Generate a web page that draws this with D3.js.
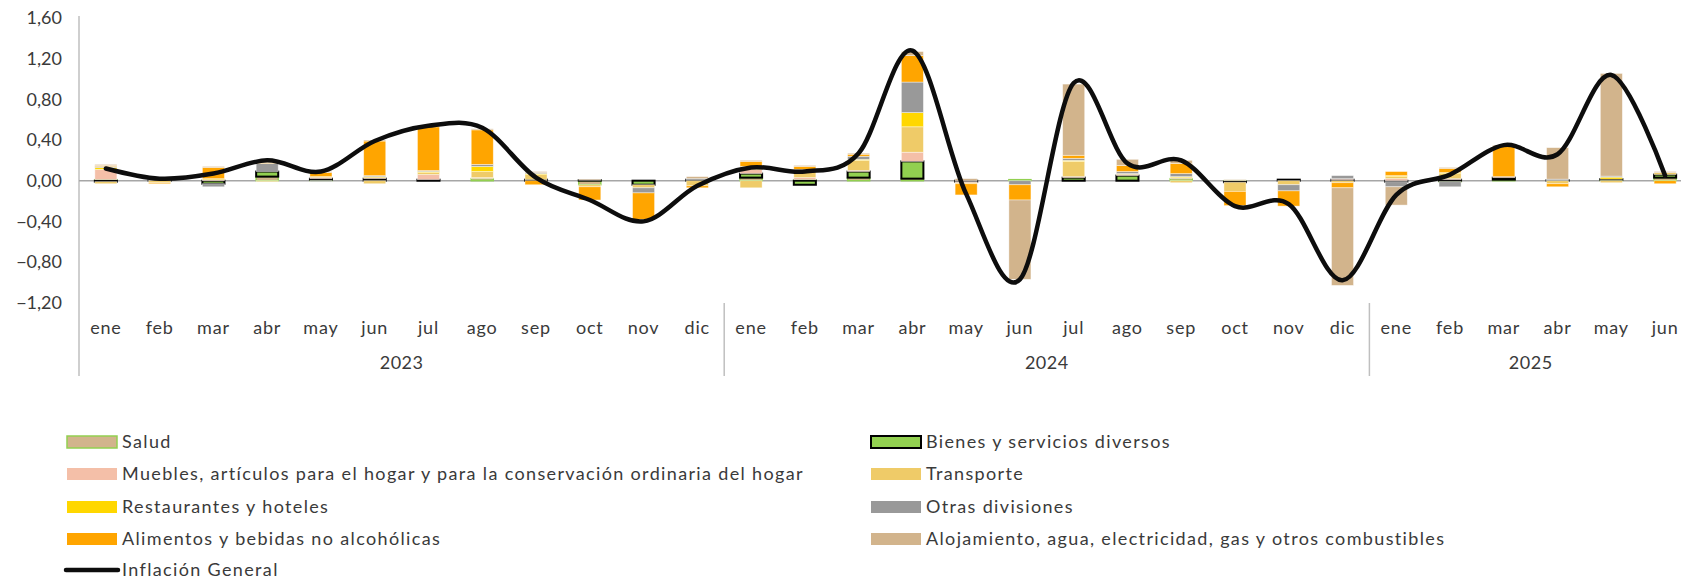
<!DOCTYPE html>
<html>
<head>
<meta charset="utf-8">
<script src="https://cdn.jsdelivr.net/npm/d3@7"></script>
<style>
  html, body { margin: 0; padding: 0; background: #fff; }
  svg text { font-family: Lato, "Open Sans", sans-serif; fill: #3a3a3a; }
</style>
</head>
<body>
<div id="chart"></div>
<script>
// months / years of the category axis
const months = ['ene','feb','mar','abr','may','jun','jul','ago','sep','oct','nov','dic',
                'ene','feb','mar','abr','may','jun','jul','ago','sep','oct','nov','dic',
                'ene','feb','mar','abr','may','jun'];
const years = [
  { label: '2023', start: 0,  count: 12 },
  { label: '2024', start: 12, count: 12 },
  { label: '2025', start: 24, count: 6 }
];
const yTicks = [-1.2, -0.8, -0.4, 0, 0.4, 0.8, 1.2, 1.6];

// contributions by division (percentage points)
const salud = [0.01, 0.00, 0.00, 0.04, 0.01, 0.00, 0.00, 0.02, 0.00, -0.04, 0.00, 0.00,
               0.03, 0.01, 0.03, 0.02, 0.00, 0.01, 0.00, 0.00, 0.02, -0.01, 0.00, 0.00,
               0.00, -0.01, 0.01, 0.00, 0.01, 0.03];
const bienes = [-0.01, 0.005, -0.03, 0.05, 0.01, 0.02, 0.01, 0.00, 0.01, 0.005, -0.04, 0.01,
                0.04, -0.04, 0.06, 0.17, -0.01, 0.00, 0.03, 0.05, 0.00, -0.005, 0.01, 0.01,
                -0.01, 0.01, 0.02, 0.005, 0.005, 0.03];
const muebles = [0.10, 0.01, 0.01, 0.00, 0.01, 0.01, 0.05, 0.01, 0.00, 0.00, 0.00, 0.00,
                 0.04, 0.02, 0.01, 0.09, -0.01, 0.00, 0.01, 0.01, 0.01, 0.00, 0.00, 0.01,
                 0.02, 0.01, 0.01, 0.00, 0.00, 0.00];
const transporte = [-0.02, -0.02, 0.00, -0.01, 0.01, -0.03, 0.02, 0.06, 0.05, -0.02, -0.03, -0.05,
                    -0.07, 0.06, 0.10, 0.25, -0.01, 0.00, 0.15, 0.01, -0.02, -0.09, -0.04, -0.02,
                    0.02, 0.05, 0.00, -0.03, -0.02, 0.02];
const restaurantes = [0.02, 0.01, 0.01, 0.00, 0.00, 0.01, 0.01, 0.05, 0.01, 0.00, 0.00, 0.00,
                      0.01, 0.01, 0.01, 0.14, 0.00, 0.00, 0.01, 0.00, 0.01, 0.00, 0.00, 0.00,
                      0.01, 0.01, 0.00, 0.00, 0.02, 0.00];
const otras = [0.01, 0.00, -0.03, 0.08, -0.01, 0.01, 0.01, 0.02, 0.01, 0.00, -0.05, 0.01,
               0.02, 0.01, 0.03, 0.30, 0.00, -0.04, 0.02, 0.02, 0.03, 0.00, -0.06, 0.03,
               -0.05, -0.05, 0.00, 0.01, 0.01, 0.00];
const alimentos = [0.01, -0.01, 0.11, 0.01, 0.04, 0.34, 0.43, 0.34, -0.04, -0.13, -0.26, -0.02,
                   0.05, 0.03, 0.02, 0.26, -0.11, -0.15, 0.03, 0.06, 0.10, -0.14, -0.15, -0.05,
                   0.04, 0.04, 0.30, -0.03, 0.00, -0.03];
const alojamiento = [0.01, 0.01, 0.01, 0.01, 0.01, 0.01, 0.01, 0.01, 0.01, 0.01, 0.00, 0.02,
                     0.01, 0.01, 0.01, 0.04, 0.02, -0.78, 0.70, 0.06, 0.03, 0.01, 0.00, -0.96,
                     -0.18, 0.01, 0.01, 0.31, 1.01, 0.01];
const inflacion = [0.12, 0.02, 0.07, 0.20, 0.09, 0.39, 0.54, 0.52, 0.03, -0.19, -0.40, -0.05,
                   0.13, 0.09, 0.27, 1.28, -0.13, -0.97, 0.96, 0.17, 0.20, -0.25, -0.23, -0.98,
                   -0.14, 0.06, 0.35, 0.26, 1.04, 0.05];

const series = [
  { key: 'salud',        name: 'Salud', values: salud, fill: '#d2b48c', stroke: '#92d050', sw: 1.5 },
  { key: 'bienes',       name: 'Bienes y servicios diversos', values: bienes, fill: '#92d050', stroke: '#000', sw: 2 },
  { key: 'muebles',      name: 'Muebles, artículos para el hogar y para la conservación ordinaria del hogar', values: muebles, fill: '#f4bfa8' },
  { key: 'transporte',   name: 'Transporte', values: transporte, fill: '#efcb68' },
  { key: 'restaurantes', name: 'Restaurantes y hoteles', values: restaurantes, fill: '#ffd700' },
  { key: 'otras',        name: 'Otras divisiones', values: otras, fill: '#999999' },
  { key: 'alimentos',    name: 'Alimentos y bebidas no alcohólicas', values: alimentos, fill: '#ffa500' },
  { key: 'alojamiento',  name: 'Alojamiento, agua, electricidad, gas y otros combustibles', values: alojamiento, fill: '#d2b48c' }
];

const W = 1681, H = 581;
const m = { left: 79, top: 18 };
const plotRight = 1692;     // plot runs a bit past the picture edge, as in the original
const plotBottom = 302.7;

const svg = d3.select('#chart').append('svg')
  .attr('width', W).attr('height', H);

const rows = months.map((mo, i) => {
  const r = { i };
  series.forEach(s => { r[s.key] = s.values[i]; });
  return r;
});

const x = d3.scaleBand()
  .domain(d3.range(months.length))
  .range([m.left, plotRight])
  .paddingInner(0.59)
  .paddingOuter(0.295);

const y = d3.scaleLinear().domain([-1.2, 1.6]).range([plotBottom, m.top]);

const fmt = v => d3.format('.2f')(v).replace('.', ',');

// y axis labels (no ticks)
const yAxis = svg.append('g')
  .attr('transform', `translate(${m.left},0)`)
  .call(d3.axisLeft(y).tickValues(yTicks).tickFormat(fmt).tickSize(0).tickPadding(17));
yAxis.select('.domain').remove();
yAxis.selectAll('text').style('font-size', '18px').attr('fill', '#3a3a3a');

// vertical axis line, extends down through the category labels
svg.append('line')
  .attr('x1', m.left).attr('x2', m.left)
  .attr('y1', y(1.6) - 2).attr('y2', 376)
  .attr('stroke', '#bfbfbf').attr('stroke-width', 1.5);

// zero line
svg.append('line')
  .attr('x1', m.left).attr('x2', plotRight)
  .attr('y1', y(0)).attr('y2', y(0))
  .attr('stroke', '#a6a6a6').attr('stroke-width', 1.5);

// stacked bars
const stack = d3.stack()
  .keys(series.map(s => s.key))
  .order(d3.stackOrderNone)
  .offset(d3.stackOffsetDiverging);
const stacked = stack(rows);

const barG = svg.append('g');
stacked.forEach((layer, li) => {
  const s = series[li];
  barG.append('g')
    .selectAll('rect')
    .data(layer)
    .join('rect')
      .attr('x', d => x(d.data.i))
      .attr('width', x.bandwidth())
      .attr('y', d => y(Math.max(d[0], d[1])))
      .attr('height', d => Math.abs(y(d[0]) - y(d[1])))
      .attr('fill', s.fill)
      .attr('stroke', s.stroke || 'rgba(255,255,255,0.55)')
      .attr('stroke-width', s.sw || 0.75);
});

// inflation line
const line = d3.line()
  .x((d, i) => x(i) + x.bandwidth() / 2)
  .y(d => y(d))
  .curve(d3.curveCardinal.tension(0));

svg.append('path')
  .datum(inflacion)
  .attr('d', line)
  .attr('fill', 'none')
  .attr('stroke', '#0d0d0d')
  .attr('stroke-width', 4.5)
  .attr('stroke-linejoin', 'round')
  .attr('stroke-linecap', 'round');

// category axis: months
svg.append('g').selectAll('text')
  .data(months)
  .join('text')
    .attr('x', (d, i) => x(i) + x.bandwidth() / 2)
    .attr('y', 334)
    .attr('text-anchor', 'middle')
    .style('font-size', '18px')
    .style('letter-spacing', '0.8px')
    .text(d => d);

// years and separators
const step = x.step();
svg.append('g').selectAll('text')
  .data(years)
  .join('text')
    .attr('x', d => m.left + (d.start + d.count / 2) * step)
    .attr('y', 369)
    .attr('text-anchor', 'middle')
    .style('font-size', '18px')
    .style('letter-spacing', '0.5px')
    .text(d => d.label);

svg.append('g').selectAll('line')
  .data(years.slice(1))
  .join('line')
    .attr('x1', d => m.left + d.start * step)
    .attr('x2', d => m.left + d.start * step)
    .attr('y1', 303).attr('y2', 376)
    .attr('stroke', '#bfbfbf').attr('stroke-width', 1.5);

// legend, two columns like the original
const legendItems = [
  series[0], series[1], series[2], series[3],
  series[4], series[5], series[6], series[7],
  { name: 'Inflación General', line: true }
];
const colX = [66, 870];
const rowY = [442, 474, 507, 539, 570];

const legend = svg.append('g');
legendItems.forEach((d, i) => {
  const cx = colX[i % 2];
  const cy = rowY[Math.floor(i / 2)];
  const g = legend.append('g').attr('transform', `translate(${cx},${cy})`);
  if (d.line) {
    g.append('line')
      .attr('x1', 0).attr('x2', 52).attr('y1', 0).attr('y2', 0)
      .attr('stroke', '#0d0d0d').attr('stroke-width', 4.5)
      .attr('stroke-linecap', 'round');
  } else {
    g.append('rect')
      .attr('x', 1).attr('y', -6).attr('width', 50).attr('height', 12)
      .attr('fill', d.fill)
      .attr('stroke', d.stroke || 'none')
      .attr('stroke-width', d.sw || 0);
  }
  g.append('text')
    .attr('x', 56).attr('y', 0).attr('dy', '0.35em')
    .style('font-size', '18px')
    .style('letter-spacing', '1.35px')
    .text(d.name);
});
</script>
</body>
</html>
